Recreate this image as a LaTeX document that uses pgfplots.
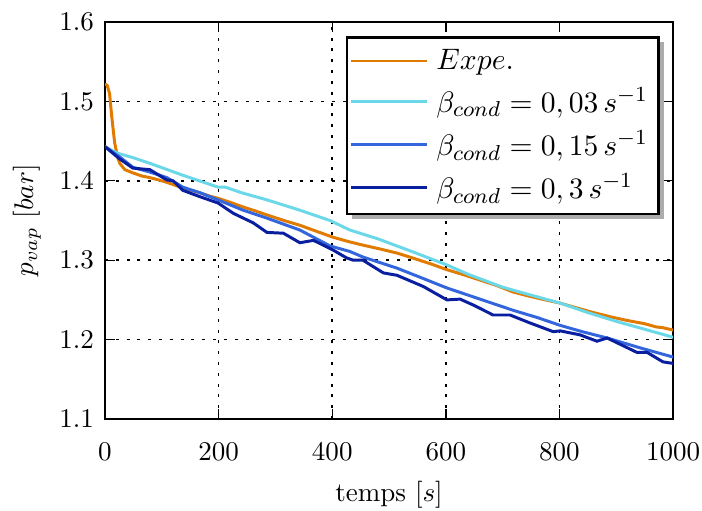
\documentclass[border=0pt]{standalone}
\usepackage{pgfplots}
\pgfplotsset{compat=1.18}
\usetikzlibrary{shadows}
\definecolor{cexp}{RGB}{224,123,0}
\definecolor{ccyan}{RGB}{106,216,232}
\definecolor{cmed}{RGB}{51,102,221}
\definecolor{cdark}{RGB}{10,31,160}
\makeatletter
\tikzset{nopre/.code={\let\tikz@preactions\pgfutil@empty}}
\makeatother
\begin{document}
\begin{tikzpicture}
\useasboundingbox (-38.85pt,-33.67pt) rectangle (220.89pt,155.03pt);
\begin{axis}[
  scale only axis,
  at={(0,0)}, anchor=south west,
  width=210.2pt, height=146.9pt,
  xmin=0, xmax=1000, ymin=1.1, ymax=1.6,
  xtick={0,200,400,600,800,1000},
  ytick={1.1,1.2,1.3,1.4,1.5,1.6},
  xticklabel style={/pgf/number format/1000 sep={}, yshift=-5.5pt},
  yticklabel style={/pgf/number format/fixed,/pgf/number format/precision=1,/pgf/number format/fixed zerofill, xshift=-0.6pt},
  tick align=inside,
  major tick length=3.7pt,
  axis line style={line width=1pt},
  tick style={black, line width=0.5pt},
  grid=major,
  major grid style={black, dash pattern=on 1.1pt off 2.9pt, line width=0.6pt},
  xlabel={temps $[s]$},
  ylabel={$p_{vap}\ [bar]$},
  xlabel style={at={(axis description cs:0.5,0)}, anchor=base, yshift=-30.5pt},
  ylabel style={at={([xshift=-28.9pt]axis description cs:0,0.5)}, anchor=center},
  legend cell align=left,
  legend style={at={(0.977,0.965)}, anchor=north east, draw=black, line width=1pt,
    fill=white, font=\fontsize{11.2}{13.5}\selectfont, row sep=1.3pt, inner xsep=1pt, inner ysep=2.3pt,
    nodes={inner xsep=3pt},
    drop shadow={shadow xshift=1.9pt, shadow yshift=-1.9pt, fill=gray!65, opacity=1}},
  legend image code/.code={\draw[nopre, #1, line width=1.1pt] (0,0) -- (22.9pt,0); \path[nopre] (0,0) -- (28pt,0);},
  every axis plot/.append style={line width=1.1pt},
]
\addplot[cexp] coordinates {
(0,1.522) (4,1.52) (8,1.51) (12,1.48) (17,1.448) (22,1.43) (26,1.422) (35,1.414) (49,1.41) (65,1.406) (79,1.404) (95,1.401) (109,1.398) (125,1.394) (137,1.391) (152,1.388) (167,1.385) (183,1.381) (199,1.378) (220,1.373) (243,1.367) (265,1.362) (285,1.357) (315,1.350) (343,1.344) (370,1.337) (401,1.329) (431,1.323) (454,1.319) (485,1.314) (514,1.309) (545,1.302) (575,1.295) (602,1.288) (630,1.282) (660,1.275) (690,1.268) (718,1.260) (745,1.255) (775,1.250) (801,1.246) (830,1.240) (860,1.234) (894,1.228) (920,1.224) (950,1.220) (970,1.216) (982,1.215) (1000,1.212)
};
\addlegendentry{$Expe.$}
\addplot[ccyan] coordinates {
(0,1.443) (21,1.435) (50,1.429) (79,1.422) (110,1.414) (137,1.407) (170,1.399) (199,1.392) (212,1.392) (240,1.385) (285,1.376) (343,1.363) (396,1.350) (431,1.338) (480,1.327) (540,1.311) (602,1.294) (640,1.282) (700,1.266) (750,1.256) (801,1.246) (850,1.234) (900,1.223) (950,1.213) (1000,1.203)
};
\addlegendentry{$\beta_{cond} = 0,03\,s^{-1}$}
\addplot[cmed] coordinates {
(0,1.443) (26,1.430) (49,1.417) (79,1.411) (109,1.404) (137,1.392) (167,1.385) (199,1.376) (243,1.363) (285,1.353) (343,1.338) (396,1.318) (431,1.311) (454,1.304) (514,1.290) (560,1.277) (602,1.265) (660,1.251) (718,1.237) (760,1.228) (801,1.218) (840,1.210) (884,1.202) (940,1.190) (1000,1.178)
};
\addlegendentry{$\beta_{cond} = 0,15\,s^{-1}$}
\addplot[cdark] coordinates {
(0,1.443) (25,1.428) (49,1.416) (79,1.414) (109,1.401) (120,1.400) (137,1.388) (167,1.380) (199,1.372) (226,1.359) (261,1.347) (285,1.335) (314,1.334) (343,1.322) (367,1.325) (401,1.313) (425,1.303) (437,1.300) (454,1.300) (490,1.284) (514,1.281) (560,1.267) (602,1.250) (625,1.251) (650,1.243) (683,1.231) (713,1.231) (748,1.221) (789,1.210) (801,1.211) (836,1.206) (866,1.198) (884,1.202) (936,1.184) (954,1.184) (982,1.172) (1000,1.170)
};
\addlegendentry{$\beta_{cond} = 0,3\,s^{-1}$}
\end{axis}
\end{tikzpicture}
\end{document}
